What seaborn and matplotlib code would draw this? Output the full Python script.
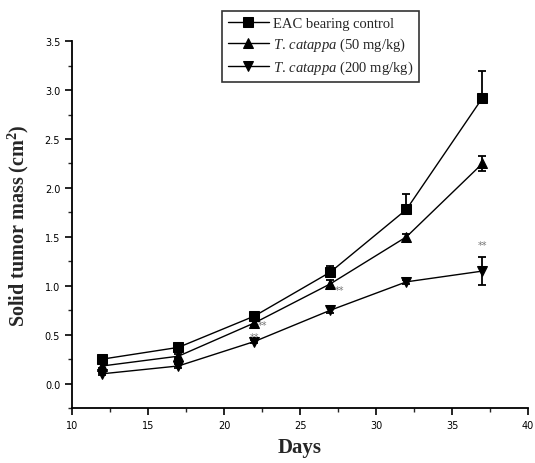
import matplotlib
matplotlib.use("Agg")
import matplotlib.pyplot as plt
from matplotlib.ticker import MultipleLocator
import seaborn as sns
import pandas as pd

days = [12, 17, 22, 27, 32, 37]
series_names = ["EAC bearing control", "$\\it{T.\\,catappa}$ (50 mg/kg)", "$\\it{T.\\,catappa}$ (200 mg/kg)"]
control = [0.25, 0.37, 0.69, 1.14, 1.78, 2.92]
control_err = [0.02, 0.02, 0.03, 0.06, 0.16, 0.28]
dose50 = [0.18, 0.28, 0.62, 1.02, 1.50, 2.25]
dose50_err = [0.02, 0.02, 0.03, 0.04, 0.03, 0.08]
dose200 = [0.10, 0.18, 0.43, 0.75, 1.04, 1.15]
dose200_err = [0.01, 0.02, 0.02, 0.03, 0.02, 0.14]
markers = ["s", "^", "v"]

sns.set_style("ticks")
plt.rcParams["font.family"] = ["DejaVu Sans"]
plt.rcParams["mathtext.fontset"] = "custom"
plt.rcParams["mathtext.rm"] = "Liberation Serif"
plt.rcParams["mathtext.it"] = "Liberation Serif:italic"
plt.rcParams["mathtext.bf"] = "Liberation Serif:bold"

df = pd.DataFrame({
    "Days": days * 3,
    "mass": control + dose50 + dose200,
    "group": [series_names[0]] * 6 + [series_names[1]] * 6 + [series_names[2]] * 6,
})

fig = plt.figure(figsize=(5.35, 4.64), dpi=100)
ax = fig.add_axes([0.1346, 0.1185, 0.8524, 0.7905])

sns.lineplot(data=df, x="Days", y="mass", hue="group", style="group",
             markers=dict(zip(series_names, markers)), dashes=False,
             palette=["black"] * 3, markersize=6.5, linewidth=1.0,
             markeredgecolor="black", ax=ax, legend=True)

ax.errorbar(days, control, yerr=[[0] * 6, control_err], fmt="none", ecolor="black",
            elinewidth=1.3, capsize=3, capthick=1.3)
ax.errorbar(days, dose50, yerr=dose50_err, fmt="none", ecolor="black",
            elinewidth=1.3, capsize=3, capthick=1.3)
ax.errorbar(days, dose200, yerr=dose200_err, fmt="none", ecolor="black",
            elinewidth=1.3, capsize=3, capthick=1.3)

# significance marks
for (x, y) in [(37, 1.42), (27.6, 0.96), (22.5, 0.60), (22.0, 0.48)]:
    ax.text(x, y, "**", ha="center", va="center", fontsize=7, color="#777777")

ax.set_xlim(10, 40)
ax.set_ylim(-0.25, 3.5)
ax.xaxis.set_minor_locator(MultipleLocator(2.5))
ax.yaxis.set_minor_locator(MultipleLocator(0.25))
ax.set_xticks([10, 15, 20, 25, 30, 35, 40])
ax.set_xticklabels(["10", "15", "20", "25", "30", "35", "40"])
ax.set_yticks([0.0, 0.5, 1.0, 1.5, 2.0, 2.5, 3.0, 3.5])
ax.set_yticklabels(["0.0", "0.5", "1.0", "1.5", "2.0", "2.5", "3.0", "3.5"])
ax.tick_params(axis="both", which="major", labelsize=7, length=5, width=1.2, direction="out", colors="black")
ax.tick_params(axis="both", which="minor", length=3, width=1.0, direction="out")
for sp in ["left", "bottom"]:
    ax.spines[sp].set_linewidth(1.3)
    ax.spines[sp].set_color("black")
sns.despine(ax=ax)

ax.set_xlabel("Days", fontsize=15, fontweight="bold", family="Liberation Serif", labelpad=5)
ax.set_ylabel("Solid tumor mass (cm$^\\mathbf{2}$)", fontsize=14.5, fontweight="bold",
              family="Liberation Serif", labelpad=10)

handles, labels = ax.get_legend_handles_labels()
leg = ax.legend(handles, labels, loc="upper left", bbox_to_anchor=(0.415, 0.974),
                bbox_transform=fig.transFigure, frameon=True, fancybox=False,
                edgecolor="black", prop={"family": "Liberation Serif", "size": 10.5},
                handlelength=2.8, handletextpad=0.3, borderpad=0.4, labelspacing=0.4,
                borderaxespad=0)
leg.get_frame().set_linewidth(1.2)
leg.set_zorder(10)

fig.savefig("out.png", dpi=100)
